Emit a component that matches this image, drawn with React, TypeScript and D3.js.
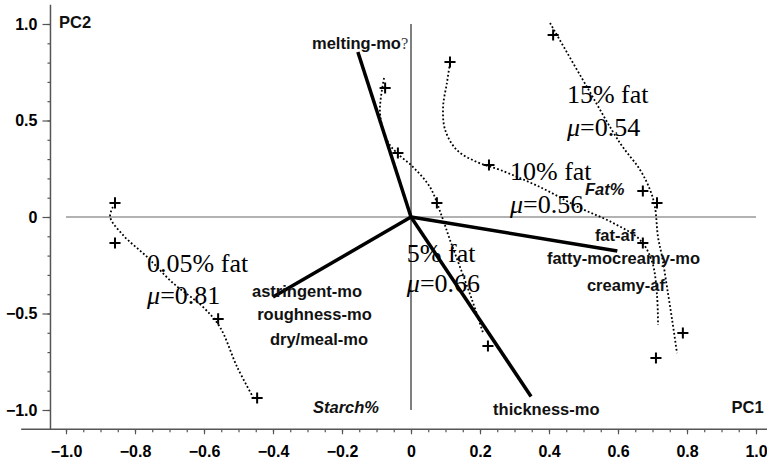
import React, { useEffect, useRef } from "react";
import * as d3 from "d3";

// PCA biplot: sensory loadings (thick lines) and score trajectories per fat level.

const xMajor = [-1, -0.8, -0.6, -0.4, -0.2, 0, 0.2, 0.4, 0.6, 0.8, 1];
const yMajor = [-1, -0.5, 0, 0.5, 1];

const loadingNames = ["melting", "astringent", "fat", "thickness"];
const loadingX = [-0.154, -0.4, 0.598, 0.348];
const loadingY = [0.855, -0.415, -0.176, -0.93];

const curve005: [number, number][] = [
  [-0.864, 0.052], [-0.872, 0], [-0.835, -0.093], [-0.765, -0.207], [-0.69, -0.342],
  [-0.603, -0.466], [-0.554, -0.57], [-0.504, -0.777], [-0.458, -0.933],
];
const curve5: [number, number][] = [
  [-0.078, 0.72], [-0.09, 0.544], [-0.07, 0.399], [-0.041, 0.332], [0.006, 0.259],
  [0.055, 0.155], [0.09, 0], [0.113, -0.119], [0.142, -0.259], [0.177, -0.43], [0.209, -0.601],
];
const curve10: [number, number][] = [
  [0.113, 0.798], [0.104, 0.694], [0.093, 0.57], [0.099, 0.451], [0.133, 0.347],
  [0.191, 0.285], [0.258, 0.244], [0.374, 0.155], [0.49, 0.047], [0.586, -0.031],
  [0.664, -0.119], [0.699, -0.233], [0.713, -0.404], [0.716, -0.56],
];
const curve15: [number, number][] = [
  [0.403, 1.005], [0.51, 0.674], [0.606, 0.383], [0.664, 0.244], [0.693, 0.14],
  [0.707, 0.052], [0.716, -0.104], [0.728, -0.207], [0.742, -0.363], [0.757, -0.534], [0.771, -0.705],
];

const scoresX = [
  -0.858, -0.858, -0.559, -0.446,
  -0.075, -0.038, 0.075, 0.223,
  0.113, 0.226, 0.672, 0.71,
  0.412, 0.672, 0.713, 0.788,
];
const scoresY = [
  0.073, -0.135, -0.528, -0.938,
  0.668, 0.332, 0.073, -0.668,
  0.803, 0.269, -0.135, -0.731,
  0.943, 0.135, 0.073, -0.601,
];

// group labels: name, mu, anchor (data coords)
const groupNames = ["15% fat", "10% fat", "0.05% fat", "5% fat"];
const groupMu = ["0.54", "0.56", "0.81", "0.66"];
const groupX = [0.452, 0.287, -0.765, -0.012];
const groupY = [0.591, 0.192, -0.285, -0.233];
const groupMuY = [0.42, 0.021, -0.451, -0.389];

const varLabels = [
  "fat-af", "fatty-mocreamy-mo", "creamy-af", "thickness-mo",
  "astringent-mo", "roughness-mo", "dry/meal-mo",
];
const varX = [0.533, 0.394, 0.51, 0.238, -0.461, -0.446, -0.409];
const varY = [-0.124, -0.244, -0.383, -1.026, -0.415, -0.534, -0.663];

export default function App() {
  const ref = useRef<SVGSVGElement | null>(null);

  useEffect(() => {
    document.body.style.margin = "0";
    const svg = d3.select(ref.current);
    svg.selectAll("*").remove();

    const x = d3.scaleLinear().domain([-1, 1]).range([66, 756]);
    const y = d3.scaleLinear().domain([-1, 1]).range([410, 24]);
    const sans = "'Liberation Sans', Arial, sans-serif";
    const serif = "'Liberation Serif', 'Times New Roman', serif";
    const axisCol = "#555";

    // axes
    const axisY = y(-1.1);
    svg
      .append("g")
      .attr("transform", `translate(0,${axisY})`)
      .call(
        d3.axisBottom(x).tickValues(d3.range(-20, 22).map((i) => i * 0.05)).tickSize(3).tickFormat(() => "")
      )
      .select(".domain")
      .remove();
    svg
      .append("g")
      .attr("transform", `translate(0,${axisY})`)
      .call(
        d3
          .axisBottom(x)
          .tickValues(xMajor)
          .tickSize(5)
          .tickPadding(11)
          .tickFormat((d: any) => (d === 0 ? "0" : d3.format(".1f")(d)))
      )
      .select(".domain")
      .remove();
    svg
      .append("line")
      .attr("x1", x(-1.13))
      .attr("x2", x(1.04))
      .attr("y1", axisY)
      .attr("y2", axisY)
      .attr("stroke", axisCol)
      .attr("stroke-width", 1.5);

    const axisX = x(-1.045);
    svg
      .append("g")
      .attr("transform", `translate(${axisX},0)`)
      .call(d3.axisLeft(y).tickValues(d3.range(-10, 11).map((i) => i * 0.1)).tickSize(3).tickFormat(() => ""))
      .select(".domain")
      .remove();
    svg
      .append("g")
      .attr("transform", `translate(${axisX},0)`)
      .call(
        d3
          .axisLeft(y)
          .tickValues(yMajor)
          .tickSize(8)
          .tickPadding(5)
          .tickFormat((d: any) => (d === 0 ? "0" : d3.format(".1f")(d)))
      )
      .select(".domain")
      .remove();
    svg
      .append("line")
      .attr("x1", axisX)
      .attr("x2", axisX)
      .attr("y1", y(1.1))
      .attr("y2", axisY)
      .attr("stroke", axisCol)
      .attr("stroke-width", 1.5);

    svg.selectAll(".tick line").attr("stroke", axisCol).attr("stroke-width", 1.2);
    svg
      .selectAll(".tick text")
      .attr("fill", "#000")
      .attr("font-family", sans)
      .attr("font-weight", "bold")
      .attr("font-size", 16);

    // zero lines
    svg
      .append("line")
      .attr("x1", x(-1))
      .attr("x2", x(1))
      .attr("y1", y(0))
      .attr("y2", y(0))
      .attr("stroke", "#666")
      .attr("stroke-width", 1.2);
    svg
      .append("line")
      .attr("x1", x(0))
      .attr("x2", x(0))
      .attr("y1", y(1))
      .attr("y2", y(-1))
      .attr("stroke", "#000")
      .attr("stroke-width", 1);

    // dotted trajectories
    const line = d3
      .line<[number, number]>()
      .x((d) => x(d[0]))
      .y((d) => y(d[1]))
      .curve(d3.curveCatmullRom);
    [curve005, curve5, curve10, curve15].forEach((c) => {
      svg
        .append("path")
        .attr("d", line(c))
        .attr("fill", "none")
        .attr("stroke", "#000")
        .attr("stroke-width", 1.8)
        .attr("stroke-dasharray", "1.8,2.2");
    });

    // loadings
    loadingNames.forEach((_, i) => {
      svg
        .append("line")
        .attr("x1", x(0))
        .attr("y1", y(0))
        .attr("x2", x(loadingX[i]))
        .attr("y2", y(loadingY[i]))
        .attr("stroke", "#000")
        .attr("stroke-width", 3.5);
    });

    // score markers
    const plus = d3.symbol().type(d3.symbolPlus).size(42);
    scoresX.forEach((sx, i) => {
      svg
        .append("path")
        .attr("d", plus() as string)
        .attr("transform", `translate(${x(sx)},${y(scoresY[i])})`)
        .attr("fill", "none")
        .attr("stroke", "#000")
        .attr("stroke-width", 2);
    });

    // group labels
    groupNames.forEach((g, i) => {
      svg
        .append("text")
        .attr("x", x(groupX[i]))
        .attr("y", y(groupY[i]))
        .attr("font-family", serif)
        .attr("font-size", 26)
        .text(g);
      const t = svg
        .append("text")
        .attr("x", x(groupX[i]))
        .attr("y", y(groupMuY[i]))
        .attr("font-family", serif)
        .attr("font-size", 26);
      t.append("tspan").attr("font-style", "italic").text("\u03bc");
      t.append("tspan").text("=" + groupMu[i]);
    });

    // variable labels
    const bold = (txt: string, vx: number, vy: number, italic = false) =>
      svg
        .append("text")
        .attr("x", x(vx))
        .attr("y", y(vy))
        .attr("font-family", sans)
        .attr("font-weight", "bold")
        .attr("font-style", italic ? "italic" : "normal")
        .attr("font-size", 16.5)
        .attr("fill", "#111")
        .text(txt);
    varLabels.forEach((v, i) => bold(v, varX[i], varY[i]));
    bold("Fat%", 0.504, 0.114, true);
    bold("Starch%", -0.284, -1.016, true);
    const melt = bold("melting-mo", -0.287, 0.87);
    melt
      .append("tspan")
      .attr("font-family", serif)
      .attr("font-weight", "normal")
      .attr("fill", "#444")
      .text("?");

    bold("PC2", -1.02, 0.98);
    bold("PC1", 1.022, -1.015).attr("text-anchor", "end");
  }, []);

  return (
    <svg
      ref={ref}
      width={767}
      height={460}
      style={{ position: "absolute", left: 0, top: 0, background: "#fff", display: "block" }}
    />
  );
}
